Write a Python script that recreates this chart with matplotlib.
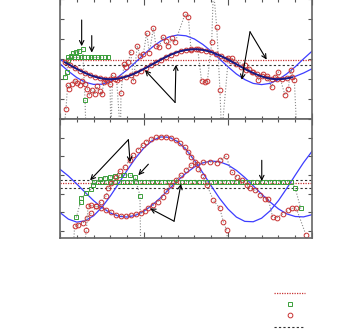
import matplotlib
matplotlib.use("Agg")
import matplotlib.pyplot as plt
from matplotlib.lines import Line2D

# ---- data (x in 0..15, y in panel units) ----
curve_x = [0, 0.5, 1, 1.5, 2, 2.5, 3, 3.5, 4, 4.5, 5, 5.5, 6, 6.5, 7, 7.5,
           8, 8.5, 9, 9.5, 10, 10.5, 11, 11.5, 12, 12.5, 13, 13.5, 14, 14.5, 15]
top_big = [2.76, 2.39, 2.07, 1.84, 1.73, 1.74, 1.88, 2.13, 2.46, 2.84, 3.24, 3.60,
           3.90, 4.11, 4.20, 4.16, 4.00, 3.73, 3.39, 3.00, 2.61, 2.25, 1.97, 1.78,
           1.72, 1.78, 1.97, 2.26, 2.61, 3.01, 3.39]
top_small = [2.97, 2.74, 2.51, 2.30, 2.13, 2.03, 1.99, 2.03, 2.13, 2.30, 2.51, 2.74,
             2.97, 3.18, 3.35, 3.45, 3.49, 3.45, 3.35, 3.18, 2.97, 2.74, 2.51, 2.30,
             2.13, 2.03, 1.99, 2.03, 2.13, 2.30, 2.51]
bot_a = [0.99, 0.64, 0.48, 0.55, 0.82, 1.28, 1.88, 2.56, 3.26, 3.91, 4.46, 4.85,
         5.04, 5.02, 4.79, 4.37, 3.79, 3.12, 2.42, 1.75, 1.18, 0.75, 0.52, 0.50,
         0.69, 1.08, 1.63, 2.29, 2.99, 3.67, 4.27]
bot_b = [3.31, 2.95, 2.52, 2.07, 1.63, 1.26, 0.97, 0.79, 0.75, 0.85, 1.07, 1.40,
         1.80, 2.25, 2.70, 3.10, 3.43, 3.65, 3.75, 3.71, 3.54, 3.25, 2.87, 2.43,
         1.98, 1.56, 1.19, 0.92, 0.78, 0.76, 0.88]

# top panel: tracked points along the small curve
trk_x = [0.3, 0.6, 0.9, 1.2, 1.5, 1.8, 2.1, 2.4, 2.7, 3.0, 3.3, 3.6, 3.9, 4.2, 4.5,
         4.8, 5.1, 5.4, 5.7, 6.0, 6.3, 6.6, 6.9, 7.2, 7.5, 7.8, 8.1, 8.4, 8.7, 9.0,
         9.3, 9.6, 9.9, 10.2, 10.5, 10.8, 11.1, 11.4, 11.7, 12.0, 12.3, 12.6, 12.9,
         13.2, 13.5, 13.8]
trk_y = [2.83, 2.69, 2.55, 2.42, 2.30, 2.19, 2.11, 2.04, 2.00, 1.99, 2.00, 2.04,
         2.11, 2.19, 2.30, 2.42, 2.55, 2.69, 2.83, 2.97, 3.10, 3.22, 3.32, 3.40,
         3.45, 3.48, 3.49, 3.47, 3.42, 3.35, 3.25, 3.14, 3.02, 2.88, 2.74, 2.60,
         2.46, 2.34, 2.23, 2.13, 2.06, 2.01, 1.99, 2.00, 2.03, 2.08]

# top panel: noisy points (values below 0 / above top are off-chart)
top_sx = [0.2, 0.36, 0.45, 0.56, 0.69, 0.89, 1.03, 1.19, 1.33, 1.49, 1.63, 1.75,
          1.88, 2.08, 2.18, 2.38, 2.48, 2.62, 2.78, 2.98, 3.03, 3.13, 3.37, 3.6,
          3.63, 3.81, 3.93, 4.07, 4.21, 4.37, 4.60, 4.76, 4.96, 5.16, 5.32, 5.56,
          5.71, 5.91, 6.11, 6.31, 6.45, 6.65, 6.85, 7.44, 7.64, 7.8, 8.2, 8.43,
          8.63, 8.77, 9.03, 9.13, 9.33, 9.52, 9.62, 10.02, 10.22, 11.01, 11.27,
          11.51, 11.81, 12.06, 12.30, 12.60, 12.80, 12.99, 13.39, 13.59, 13.73,
          13.95, 14.1]
top_sy = [-0.8, 0.51, 1.71, 1.52, 1.75, 1.91, 1.79, 1.71, 1.88, 1.75, 1.52, 1.20,
          1.47, 1.27, 1.63, 1.39, 1.23, 1.84, 1.91, 1.75, -0.8, 2.20, 1.96, -0.8,
          1.31, 2.76, 2.60, 2.87, 3.35, 1.91, 3.67, 3.16, 3.24, 4.31, 3.32, 4.55,
          3.64, 3.61, 4.12, 3.88, 3.64, 4.04, 3.83, 5.24, 5.11, 3.45, 3.50, 1.88,
          1.83, 1.88, 3.83, 6.5, 4.60, 1.43, -0.8, 3.03, 3.03, 2.68, 2.52,
          2.36, 1.96, 2.23, 2.16, 1.59, 2.12, 2.36, 1.20, 1.52, 2.47,
          1.94, -0.8]

top_gx = [0.3, 0.4, 0.5, 0.63, 0.75, 0.95, 1.15, 1.35, 1.49, 1.55]
top_gy = [2.12, 2.35, 2.96, 3.16, 3.29, 3.35, 3.40, 3.48, 0.96, -0.8]
top_rowx = [0.45, 0.65, 0.85, 1.05, 1.25, 1.45, 1.65, 1.85, 2.05, 2.25, 2.45,
            2.65, 2.85]
top_rowy = [3.08, 3.08, 3.08, 3.08, 3.08, 3.08, 3.08, 3.08, 3.08, 3.08, 3.08,
            3.08, 3.08]
top_red_level = 2.96
top_black_levels = [2.72]

# bottom panel
bot_ax_x = [0.8, 0.87, 1.1, 1.37, 1.6, 1.87, 2.16, 2.46, 2.76, 2.86, 3.06, 3.35,
            3.55, 3.85, 4.15, 4.35, 4.64, 4.94, 5.14, 5.44, 5.73, 6.03, 6.33,
            6.63, 6.92, 7.12, 7.42, 7.62, 7.82, 8.02, 8.23, 8.5, 8.75, 9.13,
            9.52, 9.72, 9.92, 10.0]
bot_ax_y = [-0.8, 0.25, 0.35, 0.43, 0.7, 0.96, 1.32, 1.58, 1.90, 2.30, 2.56, 2.92,
            3.19, 3.45, 3.81, 4.07, 4.34, 4.61, 4.79, 4.93, 5.02, 5.05, 5.05,
            5.00, 4.88, 4.70, 4.52, 4.25, 3.99, 3.72, 3.35, 2.95, 2.45, 1.65,
            1.21, 0.50, 0.05, -0.8]
bot_bx = [1.45, 1.57, 1.67, 1.87, 2.16, 2.46, 2.76, 3.06, 3.35, 3.65, 3.95, 4.25,
          4.54, 4.84, 5.08, 5.24, 5.54, 5.83, 6.13, 6.33, 6.63, 6.92, 7.22, 7.52,
          7.82, 8.13, 8.53, 8.93, 9.33, 9.52, 9.88, 10.22, 10.52, 10.81, 11.11,
          11.31, 11.61, 11.90, 12.20, 12.40, 12.66, 12.90, 13.29, 13.59, 13.79,
          14.05, 14.64]
bot_by = [-0.8, 0.05, 1.32, 1.37, 1.32, 1.26, 1.14, 1.01, 0.87, 0.82, 0.82, 0.87,
          0.91, 0.96, 1.05, 1.23, 1.37, 1.58, 1.85, 2.15, 2.47, 2.74, 3.01, 3.27,
          3.54, 3.61, 3.70, 3.70, 3.67, 3.79, 4.00, 3.17, 2.90, 2.72, 2.46,
          2.28, 2.19, 1.92, 1.74, 1.71, 0.73, 0.71, 0.94, 1.12, 1.21,
          1.26, -0.21]
bot_gx = [0.97, 1.23, 1.27, 1.57, 1.87, 1.96, 2.38, 2.68, 2.98, 3.27, 3.53, 3.81,
          4.17, 4.46, 4.76, 4.8]
bot_gy = [0.73, 1.58, 1.76, 2.03, 2.26, 2.47, 2.81, 2.86, 2.90, 2.95, 2.99, 3.02,
          2.99, 2.90, 1.9, -0.8]
bot_rowx = [2.0, 2.25, 2.5, 2.75, 3.0, 3.25, 3.5, 3.75, 4.0, 4.25, 4.5, 4.75,
            5.0, 5.25, 5.5, 5.75, 6.0, 6.25, 6.5, 6.75, 7.0, 7.25, 7.5, 7.75,
            8.0, 8.25, 8.5, 8.75, 9.0, 9.25, 9.5, 9.75, 10.0, 10.25, 10.5, 10.75,
            11.0, 11.25, 11.5, 11.75, 12.0, 12.25, 12.5, 12.75, 13.0, 13.25, 13.5,
            13.75, 13.99, 14.33]
bot_rowy = [2.65] * 48 + [2.33, 1.21]
bot_red_level = 2.60
bot_black_levels = [2.74, 2.28]

# annotation arrows: (tail, head) in data units
top_arrows = [((1.29, 4.95), (1.29, 3.64)), ((1.89, 4.17), (1.89, 3.32)),
              ((6.85, 0.83), (5.06, 2.44)), ((6.85, 0.83), (6.90, 2.71)),
              ((11.31, 4.36), (10.82, 1.96)), ((11.31, 4.36), (12.30, 2.97))]
bot_arrows = [((4.07, 4.89), (1.79, 2.72)), ((4.07, 4.89), (4.17, 3.68)),
              ((5.26, 3.58), (4.66, 2.99)),
              ((6.79, 0.53), (5.36, 1.21)), ((6.79, 0.53), (7.20, 2.53)),
              ((12.01, 3.79), (12.01, 2.68))]

RED = "#c83232"
GREEN = "#3a9e3a"
BLUE = "#3d3dff"
DOT = (0, (1, 1.6))

fig = plt.figure(figsize=(3.38, 3.32), dpi=100)
W, H = 338, 332
ax_top = fig.add_axes([60 / W, 1 - 119 / H, 252 / W, 120 / H])
ax_bot = fig.add_axes([60 / W, 1 - 238 / H, 252 / W, 119 / H])


def style(ax, ylim):
    ax.set_xlim(0, 15)
    ax.set_ylim(*ylim)
    ax.set_xticks([0, 5, 10, 15])
    ax.set_xticks(range(16), minor=True)
    ax.set_yticks(range(0, 7))
    ax.tick_params(which="both", direction="in", top=True, right=True,
                   labelbottom=False, labelleft=False, color="#555555", width=0.8)
    ax.tick_params(which="major", length=4.5)
    ax.tick_params(which="minor", length=2.4)
    ax.tick_params(axis="y", which="major", length=3)
    for s in ax.spines.values():
        s.set_color("#666666")
        s.set_linewidth(1.2)


def draw(ax, big, small, noisy, greens, red_level, black_levels, arrows):
    ax.axhline(red_level, color=RED, ls=(0, (1, 1)), lw=0.9)
    for lv in black_levels:
        ax.axhline(lv, color="#333333", ls=(0, (2, 2)), lw=0.8)
    ax.plot(curve_x, big, color=BLUE, lw=0.9)
    ax.plot(curve_x, small, color=BLUE, lw=0.9)
    for gx, gy in greens:
        ax.plot(gx, gy, color="#888888", ls=DOT, lw=0.8, marker="s", ms=3.0,
                mfc="none", mec=GREEN, mew=0.7)
    for nx, ny in noisy:
        ax.plot(nx, ny, color="#888888", ls=DOT, lw=0.8, marker="o", ms=3.4,
                mfc="none", mec=RED, mew=0.7)
    for tail, head in arrows:
        ax.annotate("", xy=head, xytext=tail,
                    arrowprops=dict(arrowstyle="->", color="black", lw=0.8,
                                    shrinkA=0, shrinkB=0, mutation_scale=8))


style(ax_top, (0, 5.77))
style(ax_bot, (-0.37, 6.0))
ax_top.plot(trk_x, trk_y, color="#1a1a80", lw=1.4, zorder=3)
draw(ax_top, top_big, top_small, [(top_sx, top_sy), (trk_x, trk_y)],
     [(top_rowx, top_rowy), (top_gx, top_gy)], top_red_level, top_black_levels,
     top_arrows)
draw(ax_bot, bot_a, bot_b, [(bot_ax_x, bot_ax_y), (bot_bx, bot_by)],
     [(bot_rowx, bot_rowy), (bot_gx, bot_gy)], bot_red_level, bot_black_levels,
     bot_arrows)

# legend keys (labels are empty in the original)
def fx(px):
    return px / W


def fy(py):
    return 1 - py / H


fig.add_artist(Line2D([fx(274), fx(305)], [fy(292.7)] * 2, color=RED,
                      ls=(0, (1, 1)), lw=0.9))
fig.add_artist(Line2D([fx(290)], [fy(304)], marker="s", ms=3.0, mfc="none",
                      mec=GREEN, mew=0.7, ls="none"))
fig.add_artist(Line2D([fx(290)], [fy(315.3)], marker="o", ms=3.4, mfc="none",
                      mec=RED, mew=0.7, ls="none"))
fig.add_artist(Line2D([fx(274), fx(305)], [fy(326.7)] * 2, color="#333333",
                      ls=(0, (2, 2)), lw=0.8))

fig.savefig("out.png", dpi=100)
